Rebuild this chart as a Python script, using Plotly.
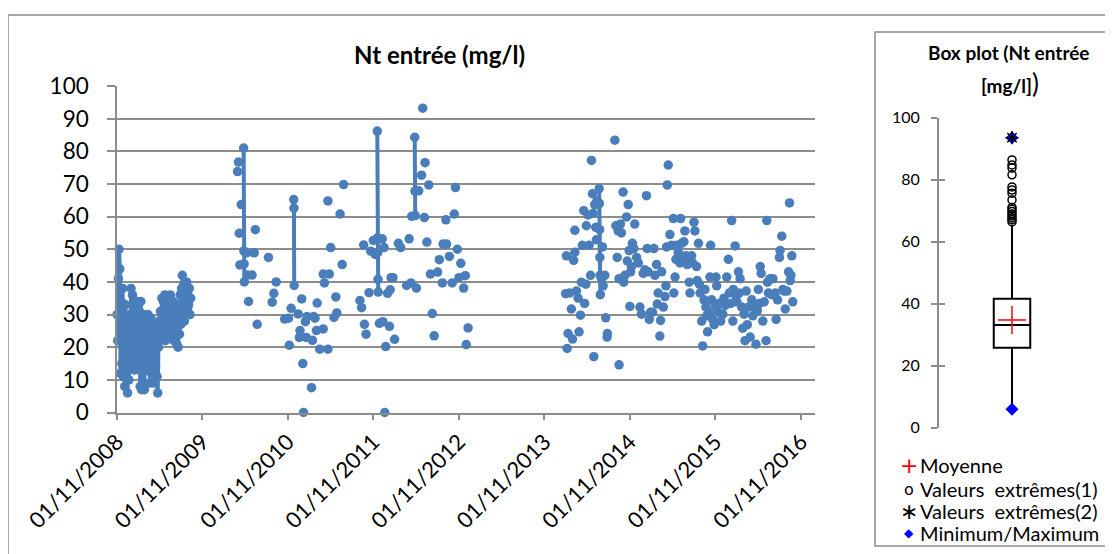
import pandas as pd
import plotly.graph_objects as go

W, H = 1113, 554
OFF = 8  # page body margin in the browser
BLUE = "#4A7EBB"
GRID = "#8C8C8C"
FONT = "Lato"

# ---------------- data ----------------
# Early daily series (one reading every 3 days from 01/11/2008)
cluster_start = "2008-11-01"
cluster_step_days = 3
cluster_vals = [30, 22, 41, 50, 44, 12, 34, 15, 38, 11, 30, 8, 33, 13, 26, 6, 24, 10, 30, 17,
                38, 14, 36, 20, 28, 13, 33, 16, 34, 18, 27, 14, 31, 8, 34, 7, 25, 13, 30, 7,
                28, 13, 27, 18, 30, 15, 26, 9, 29, 12, 24, 12, 22, 9, 27, 14, 26, 11, 6, 20,
                28, 22, 31, 26, 35, 23, 34, 28, 36, 22, 33, 27, 35, 24, 32, 28, 36, 23, 30, 26,
                34, 22, 31, 25, 33, 21, 28, 20, 32, 24, 36, 27, 38, 42, 33, 39, 28, 37, 31, 40,
                30, 36, 33, 38, 30, 35]

# Sparse readings 2009-2012 (days since 01/11/2008)
mid_days = [515, 519, 522, 525, 531, 541, 542, 543, 544, 553, 557, 562, 577, 586, 591, 599,
            647, 663, 670, 680, 716, 733, 736, 744, 755, 756, 757, 774, 779, 782, 789, 794,
            797, 805, 808, 812, 831, 835, 840, 846, 852, 855, 866, 881, 881, 886, 901, 901,
            907, 913, 927, 935, 939, 953, 962, 968,
            1038, 1045, 1054, 1057, 1064, 1077, 1084, 1095, 1103, 1112, 1113, 1114, 1115, 1116,
            1121, 1133, 1136, 1141, 1144, 1148, 1156, 1164, 1167, 1171, 1179, 1186, 1202, 1212,
            1237, 1248, 1256, 1259, 1272, 1273, 1274, 1279, 1289, 1301, 1306, 1313, 1316, 1324,
            1332, 1339, 1347, 1355, 1370, 1377, 1390, 1393, 1405, 1408, 1420, 1432, 1441, 1446,
            1454, 1461, 1469, 1481, 1488, 1492, 1500]
mid_vals = [73.8, 76.7, 54.9, 45.2, 63.7, 81.0, 49.5, 45.5, 40.0, 48.9, 42.1, 34.0, 42.1, 48.9, 56.0, 27.0,
            47.5, 33.8, 36.5, 40.0, 28.6, 28.9, 20.6, 31.9, 65.2, 62.6, 38.9, 30.2, 23.0, 25.1, 34.8, 15.0,
            0.0, 27.8, 23.0, 29.4, 7.6, 22.1, 29.4, 28.9, 25.1, 33.5, 19.4, 25.6, 42.4, 39.7, 64.8, 19.4,
            42.4, 50.5, 29.1, 35.4, 30.5, 60.8, 45.3, 69.8,
            34.3, 32.1, 51.3, 27.0, 24.0, 36.7, 49.4, 52.7, 48.4, 86.2, 53.5, 49.0, 40.8, 36.9,
            27.3, 53.2, 27.8, 50.5, 0.0, 20.2, 36.5, 26.4, 37.6, 41.3, 41.3, 22.4, 51.8, 50.5,
            38.9, 53.2, 39.7, 60.1, 84.3, 67.8, 60.3, 38.1, 67.9, 72.7, 93.2, 59.7, 76.5, 52.2,
            69.7, 42.4, 30.3, 23.5, 43.0, 46.8, 39.7, 51.6, 59.0, 51.6, 47.8, 39.7, 60.8, 68.9,
            50.0, 41.3, 45.7, 38.1, 41.9, 20.8, 25.9]

# Readings 2014-2016 (days since 01/11/2014)
late_days = [-274, -271, -268, -264, -257, -250, -245, -240, -235, -235, -228, -221, -217, -211, -207, -203,
             -197, -193, -188, -186, -178, -174, -168, -164, -160, -157, -154, -150, -146, -143, -140,
             -131, -130, -129, -128, -127, -126, -121, -117, -114, -107, -103, -97, -96,
             -64, -60, -54, -50, -46, -46, -40, -36, -29, -26, -21, -14, -11, -7, -3, 0, 3, 7, 11, 17,
             21, 29, 36, 43, 50, 57, 64, 71, 74, 78, 83, 88, 97, 103, 107, 114, 117, 121, 128, 131,
             136, 143, 150, 154, 157, 160, 164, 171, 178, 186, 188, 193, 197, 200, 207, 214, 217, 221,
             225, 231, 235, 240, 245, 250, 254, 257, 264, 268, 274, 278, 285, 288, 293, 297, 300, 307,
             311, 317, 321, 325, 328, 332, 340, 342, 345, 350, 354, 360, 364, 368, 371, 378, 382, 388,
             397, 402, 407, 414, 421, 425, 431, 435, 440, 442, 450, 454, 457, 464, 468, 471, 478, 482,
             488, 492, 497, 502, 507, 514, 521, 525, 531, 539, 545, 549, 554, 557, 561, 568, 574, 582,
             585, 588, 592, 599, 606, 611, 621, 625, 631, 639, 642, 649, 654, 659, 664, 671, 678, 682,
             685, 688, 692, 696]
late_vals = [36.4, 48.0, 19.6, 24.2, 36.6, 31.7, 22.5, 46.6, 49.1, 55.8, 37.2, 35.0, 24.7, 29.8, 39.9, 51.2,
             61.8, 33.4, 39.3, 57.2, 60.5, 51.2, 42.0, 77.2, 67.0, 61.0, 17.1, 63.7, 56.7, 52.9, 64.8,
             68.6, 64.0, 56.0, 47.5, 42.0, 36.1, 41.0, 50.7, 38.8, 42.0, 29.0, 23.1, 24.2,
             83.4, 57.2, 47.5, 55.6, 14.6, 41.0, 57.7, 55.0, 67.5, 39.9, 42.0, 59.9, 46.4, 63.7, 49.6, 32.5, 43.1, 44.7, 51.8, 50.2,
             57.7, 47.5, 45.8, 32.3, 30.1, 42.6, 43.7, 66.4, 50.2, 43.1, 28.5, 30.7, 30.7, 50.2, 42.0, 45.3, 33.2, 36.6, 23.4, 28.2,
             43.1, 32.3, 35.5, 38.8, 50.7, 69.7, 75.8, 54.5, 51.2, 59.4, 36.6, 41.5, 46.9, 51.2, 49.1, 45.8, 59.4, 51.8,
             47.5, 52.3, 55.6, 48.0, 45.3, 46.4, 39.9, 36.6, 48.0, 45.8, 58.3, 55.6, 44.7, 40.4, 51.8, 39.3, 36.6, 28.0,
             20.4, 34.5, 37.7, 32.3, 29.6, 24.7, 30.7, 41.5, 51.2, 34.5, 28.5, 26.9, 32.8, 41.5, 38.8, 30.7, 33.4, 28.0,
             30.1, 35.0, 32.8, 41.5, 46.9, 36.6, 33.4, 58.8, 28.0, 37.7, 51.0, 35.5, 33.9, 43.1, 36.6, 41.0, 32.3, 25.8,
             30.1, 22.0, 37.2, 26.9, 32.3, 23.1, 34.5, 29.6, 32.3, 20.9, 31.2, 37.7, 33.4, 44.7, 42.6, 28.0, 33.9, 22.0,
             58.8, 39.9, 36.6, 41.0, 36.1, 41.0, 36.6, 28.5, 34.5, 47.5, 49.6, 54.0, 37.7, 37.2, 31.7, 37.2, 43.1, 64.2,
             40.4, 42.0, 48.0, 33.9]

# Axis ticks
tick_dates = ["2008-11-01", "2009-11-01", "2010-11-01", "2011-11-01", "2012-11-01",
              "2013-11-01", "2014-11-01", "2015-11-01", "2016-11-01"]
tick_labels = ["01/11/2008", "01/11/2009", "01/11/2010", "01/11/2011", "01/11/2012",
               "01/11/2013", "01/11/2014", "01/11/2015", "01/11/2016"]

# Box plot statistics
box_q1, box_median, box_q3 = 25.7, 33.1, 41.5
box_lower, box_upper = 5.9, 65.4
box_mean = 34.7
box_min, box_max = 5.9, 93.5
extremes1 = [66.3, 67.0, 67.6, 68.2, 68.9, 69.7, 70.4, 71.0, 73.4, 75.6, 76.6, 77.6, 81.5, 83.7, 84.7, 86.3]
extremes2 = [93.5]

# ---------------- build series ----------------
c0 = pd.Timestamp(cluster_start)
cluster_x = [c0 + pd.Timedelta(days=cluster_step_days * i) for i in range(len(cluster_vals))]

o1 = pd.Timestamp("2008-11-01")
o2 = pd.Timestamp("2014-11-01")
pts = [(o1 + pd.Timedelta(days=d), v) for d, v in zip(mid_days, mid_vals)]
pts += [(o2 + pd.Timedelta(days=d), v) for d, v in zip(late_days, late_vals)]
pts.sort(key=lambda p: p[0])
sx, sy = [], []
prev = None
for t, v in pts:
    if prev is not None and (t - prev).days != 1:
        sx.append(None)
        sy.append(None)
    sx.append(t)
    sy.append(v)
    prev = t

fig = go.Figure()
fig.add_trace(go.Scatter(x=cluster_x, y=cluster_vals, mode="lines+markers", cliponaxis=False,
                         line=dict(color=BLUE, width=4), marker=dict(color=BLUE, size=9.5),
                         showlegend=False, xaxis="x", yaxis="y"))
fig.add_trace(go.Scatter(x=sx, y=sy, mode="lines+markers", connectgaps=False, cliponaxis=False,
                         line=dict(color=BLUE, width=4), marker=dict(color=BLUE, size=9.5),
                         showlegend=False, xaxis="x", yaxis="y"))

# Box plot
fig.add_trace(go.Box(x=[1], q1=[box_q1], median=[box_median], q3=[box_q3],
                     lowerfence=[box_lower], upperfence=[box_upper],
                     width=0.5, whiskerwidth=0, fillcolor="white",
                     line=dict(color="black", width=2), boxpoints=False,
                     showlegend=False, xaxis="x2", yaxis="y2"))
fig.add_trace(go.Scatter(x=[1] * len(extremes1), y=extremes1, mode="markers",
                         marker=dict(symbol="circle-open", size=8, color="black", line=dict(width=1.5)),
                         showlegend=False, xaxis="x2", yaxis="y2"))
fig.add_trace(go.Scatter(x=[1, 1], y=[box_min, box_max], mode="markers",
                         marker=dict(symbol="diamond", size=10, color="#0000FF"),
                         showlegend=False, xaxis="x2", yaxis="y2"))
fig.add_trace(go.Scatter(x=[1] * len(extremes2), y=extremes2, mode="markers",
                         marker=dict(symbol="asterisk-open", size=11, color="black", line=dict(width=1.5, color="black")),
                         showlegend=False, xaxis="x2", yaxis="y2"))
fig.add_trace(go.Scatter(x=[1], y=[box_mean], mode="markers",
                         marker=dict(symbol="cross-thin-open", size=20, color="red", line=dict(width=1.5, color="red")),
                         showlegend=False, xaxis="x2", yaxis="y2"))
# dummy trace so yaxis3 renders
fig.add_trace(go.Scatter(x=[None], y=[None], xaxis="x2", yaxis="y3", showlegend=False))


def px(x):
    return (x - OFF) / W


def py(y):
    return 1 - (y - OFF) / H


fig.update_layout(
    width=W, height=H, margin=dict(l=0, r=0, t=0, b=0, autoexpand=False),
    paper_bgcolor="white", plot_bgcolor="rgba(0,0,0,0)",
    font=dict(family=FONT, color="black"),
    xaxis=dict(type="date", domain=[px(117), px(815)], range=["2008-11-01", "2016-12-31"],
               tickvals=tick_dates, ticktext=tick_labels, tickangle=-45,
               tickfont=dict(size=22), showgrid=False, zeroline=False,
               showline=True, linecolor=GRID, linewidth=1.5, automargin=False,
               ticks="outside", ticklen=6, tickcolor=GRID, tickwidth=1.5, anchor="y"),
    yaxis=dict(domain=[py(412.5), py(86)], range=[0, 100], dtick=10,
               tickfont=dict(size=22.5), showgrid=True, gridcolor=GRID, gridwidth=1.5,
               zeroline=False, showline=True, linecolor=GRID, linewidth=1.5, automargin=False,
               ticks="outside", ticklen=8, tickcolor=GRID, tickwidth=1.5,
               ticklabelstandoff=14, anchor="x"),
    xaxis2=dict(domain=[px(939), px(1085)], range=[0, 2], visible=False, anchor="y2", automargin=False),
    yaxis2=dict(domain=[py(427.5), py(117.5)], range=[0, 100], dtick=20,
                tickfont=dict(size=16), showgrid=False, zeroline=False, automargin=False,
                showline=True, linecolor=GRID, linewidth=2,
                ticks="outside", ticklen=6, tickcolor=GRID, tickwidth=1.5,
                ticklabelstandoff=8, anchor="x2"),
    yaxis3=dict(domain=[py(427.5), py(117.5)], range=[0, 100], dtick=20, overlaying="y2",
                showticklabels=False, showgrid=False, zeroline=False, showline=False, automargin=False,
                ticks="inside", ticklen=6, tickcolor=GRID, tickwidth=1.5, anchor="x2"),
    shapes=[
        dict(type="rect", xref="paper", yref="paper", x0=px(8), y0=py(580), x1=px(1140), y1=py(15),
             line=dict(color=GRID, width=1.5), fillcolor="rgba(0,0,0,0)", layer="below"),
        dict(type="rect", xref="paper", yref="paper", x0=px(875), y0=py(546), x1=px(1112), y1=py(32),
             line=dict(color=GRID, width=1.5), fillcolor="white", layer="below"),
    ],
)

ann = [
    dict(text="<b>Nt entrée (mg/l)</b>", x=px(439), y=py(55), font=dict(size=24)),
    dict(text="<b>Box plot (Nt entrée</b>", x=px(1009), y=py(52), font=dict(size=19)),
    dict(text="<b>[mg/l]</b><span style='font-size:26px'>)</span>", x=px(1010), y=py(83), font=dict(size=19)),
]
for a in ann:
    a.update(xref="paper", yref="paper", showarrow=False, xanchor="center", yanchor="middle")
    fig.add_annotation(**a)

legend_rows = [
    ("+", "red", 22, "Moyenne", 465),
    ("o", "black", 16, "Valeurs\u00a0\u00a0extrêmes(1)", 489),
    ("\u2217", "black", 22, "Valeurs\u00a0\u00a0extrêmes(2)", 511),
    ("\u25c6", "#0000FF", 12, "Minimum/Maximum", 533),
]
for sym, col, sz, label, yy in legend_rows:
    fig.add_annotation(text=sym, x=px(909), y=py(yy), xref="paper", yref="paper", showarrow=False,
                       xanchor="center", yanchor="middle", font=dict(size=sz, color=col, family="DejaVu Sans"))
    fig.add_annotation(text=label, x=px(918), y=py(yy), xref="paper", yref="paper", showarrow=False,
                       xanchor="left", yanchor="middle", font=dict(size=20, color="black"))

fig.write_html("out.html")
